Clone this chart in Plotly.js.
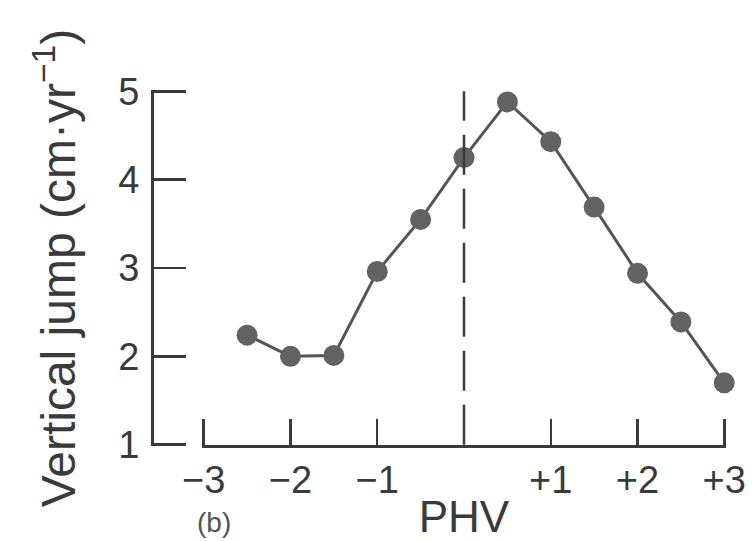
<!DOCTYPE html>
<html>
<head>
<meta charset="utf-8">
<script src="https://cdn.plot.ly/plotly-3.0.1.min.js"></script>
<style>html,body{margin:0;padding:0;background:#fff;}#chart{width:753px;height:541px;}</style>
</head>
<body>
<div id="chart"></div>
<script>
// Years relative to peak height velocity (PHV)
const phvYears = [-2.5, -2, -1.5, -1, -0.5, 0, 0.5, 1, 1.5, 2, 2.5, 3];
// Vertical jump velocity (cm·yr^-1)
const jumpGain = [2.24, 2.0, 2.01, 2.96, 3.55, 4.25, 4.88, 4.43, 3.69, 2.94, 2.39, 1.70];
const xTickVals = [-3, -2, -1, 1, 2, 3];
const xTickText = ["\u22123", "\u22122", "\u22121", "+1", "+2", "+3"];
const yTickVals = [1, 2, 3, 4, 5];
const phvLine = 0;

const ink = "#3a3a3a";
const fam = "Liberation Sans, Arial, sans-serif";
const tickFont = {family: fam, size: 38, color: ink};
const titleFont = {family: fam, size: 48, color: ink};

const trace = {
  x: phvYears, y: jumpGain, type: "scatter", mode: "lines+markers",
  line: {color: "#555555", width: 3},
  marker: {color: "#626262", size: 21},
  cliponaxis: false, showlegend: false, hoverinfo: "skip"
};

const layout = {
  width: 753, height: 541,
  margin: {l: 152, r: 27, t: 90, b: 95},
  paper_bgcolor: "#ffffff", plot_bgcolor: "#ffffff",
  font: tickFont,
  showlegend: false,
  xaxis: {
    domain: [0.0871, 1], range: [-3.02, 3.02], anchor: "free", position: 0,
    showline: true, linecolor: ink, linewidth: 2.5,
    showgrid: false, zeroline: false,
    ticks: "inside", ticklen: 26, tickwidth: 2.5, tickcolor: ink,
    tickvals: xTickVals, ticktext: xTickText, tickfont: tickFont,
    title: {text: "PHV", font: {family: fam, size: 44, color: ink}, standoff: 0}
  },
  yaxis: {
    domain: [0, 1], range: [0.985, 5.015], anchor: "free", position: 0,
    showline: true, linecolor: ink, linewidth: 2.5,
    showgrid: false, zeroline: false,
    ticks: "inside", ticklen: 32, tickwidth: 2.5, tickcolor: ink,
    tickvals: yTickVals, tickfont: tickFont, ticklabelstandoff: 4,
    title: {text: "Vertical jump (cm\u00b7yr<sup>\u22121</sup>)", font: titleFont, standoff: 26}
  },
  shapes: [{
    type: "line", xref: "x", yref: "y",
    x0: phvLine, x1: phvLine, y0: 1, y1: 5,
    line: {color: ink, width: 2.5, dash: "40px,14px"}
  }],
  annotations: [{
    text: "(b)", xref: "paper", yref: "paper",
    x: 0.075, y: -0.265, xanchor: "left", yanchor: "bottom",
    showarrow: false, font: {family: fam, size: 28, color: "#555"}
  }]
};

Plotly.newPlot("chart", [trace], layout, {displayModeBar: false, staticPlot: true});
</script>
</body>
</html>
